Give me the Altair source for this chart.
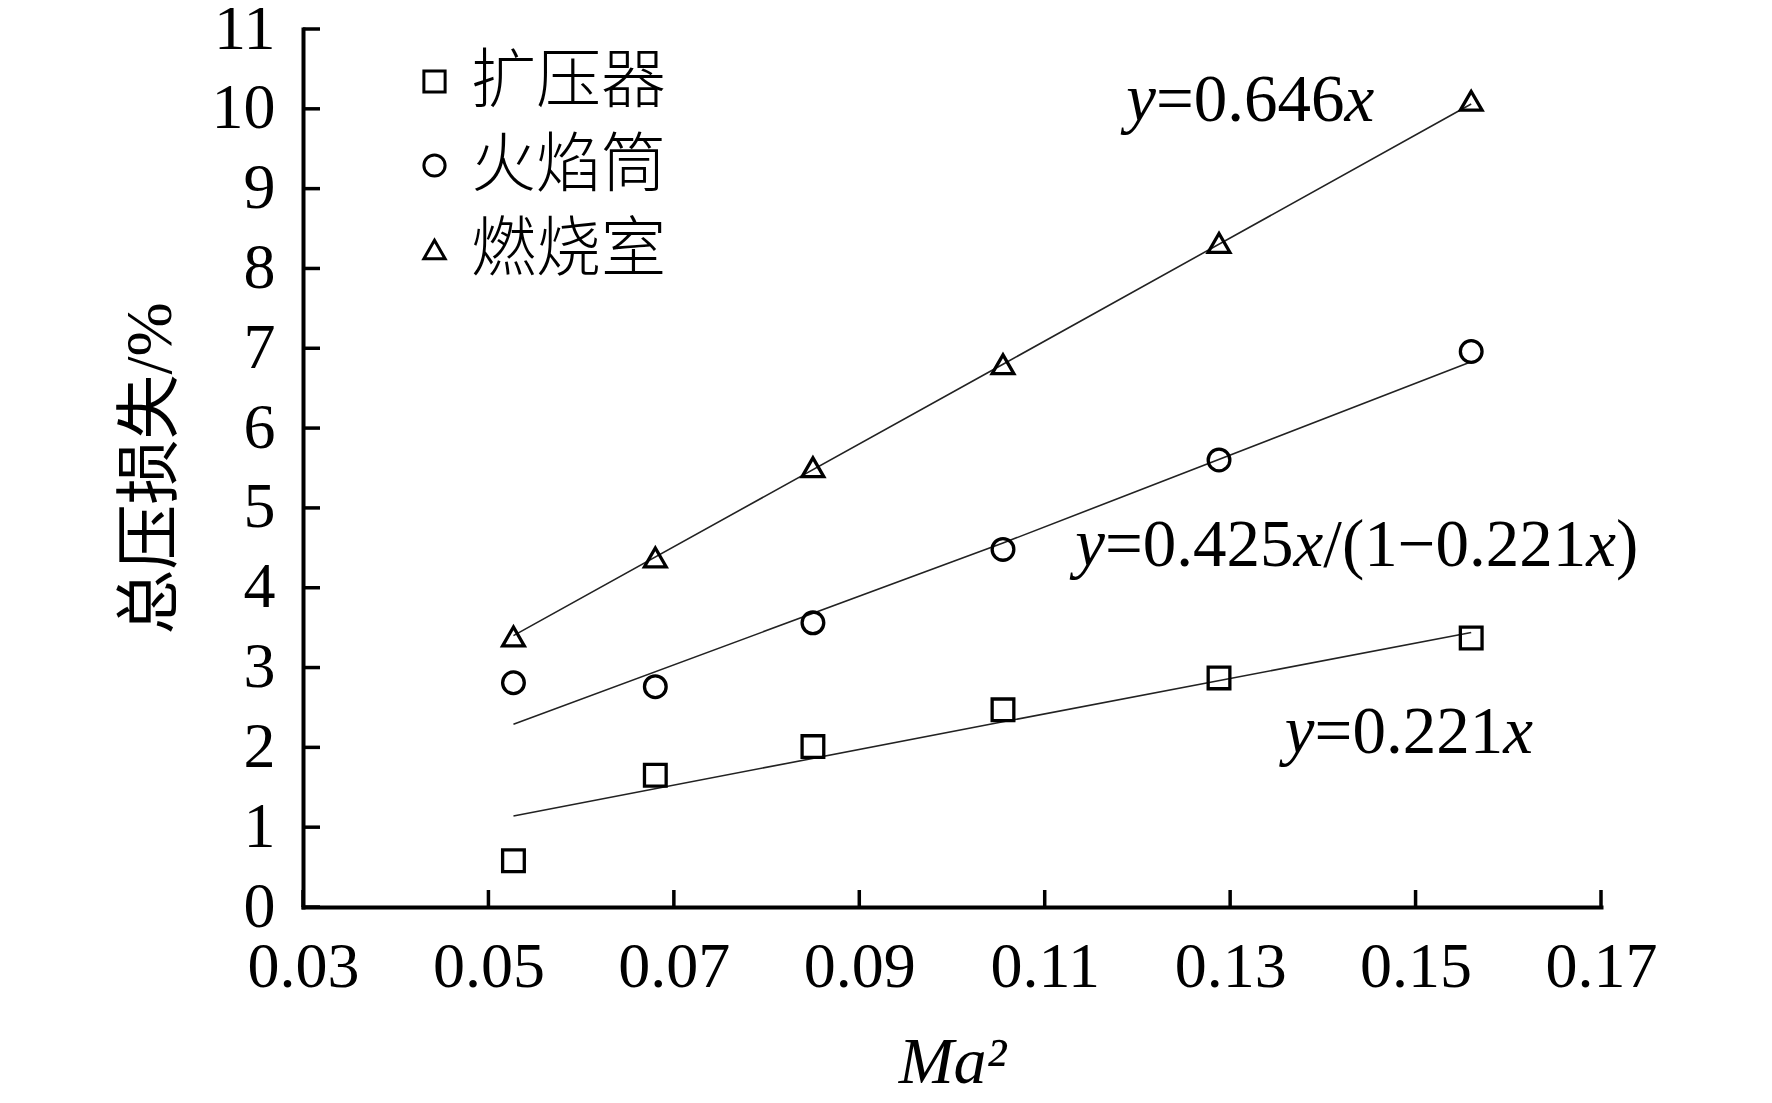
import altair as alt
import pandas as pd

# ---- data ----
series = ["扩压器", "火焰筒", "燃烧室"]
shapes = ["square", "circle", "triangle-up"]
ma2 = [0.0527, 0.0680, 0.0850, 0.1055, 0.1288, 0.1560]
diffuser = [0.58, 1.65, 2.01, 2.47, 2.87, 3.37]
liner = [2.81, 2.76, 3.56, 4.48, 5.60, 6.96]
combustor = [3.39, 4.38, 5.51, 6.80, 8.32, 10.10]

fit_x = [0.0527, 0.1055, 0.1560]
fit_diffuser = [1.14, 2.32, 3.44]
fit_liner = [2.29, 4.56, 6.83]
fit_combustor = [3.40, 6.80, 10.06]

x_ticks = [0.03, 0.05, 0.07, 0.09, 0.11, 0.13, 0.15, 0.17]
y_ticks = [0, 1, 2, 3, 4, 5, 6, 7, 8, 9, 10, 11]

# annotation texts (segments: text, italic) and anchor in data units
ann_parts = [
    [("y", True), ("=0.646", False), ("x", True)],
    [("y", True), ("=0.425", False), ("x", True), ("/(1\u22120.221", False), ("x", True), (")", False)],
    [("y", True), ("=0.221", False), ("x", True)],
]
ann_x = [0.1188, 0.1133, 0.1359]
ann_y = [9.85, 4.27, 1.93]

SERIF = "Liberation Serif"
MIXED = "Liberation Serif, Noto Sans CJK SC"
FS = 64

# ---- tables ----
pts = pd.DataFrame({
    "x": ma2 * 3,
    "y": diffuser + liner + combustor,
    "s": [series[0]] * 6 + [series[1]] * 6 + [series[2]] * 6,
})
fits = pd.DataFrame({
    "x": fit_x * 3,
    "y": fit_diffuser + fit_liner + fit_combustor,
    "s": [series[0]] * 3 + [series[1]] * 3 + [series[2]] * 3,
})

xs = alt.Scale(domain=[0.03, 0.17], nice=False, zero=False)
ys = alt.Scale(domain=[0, 11], nice=False)

x_axis = alt.Axis(
    values=x_ticks, format=".2f", ticks=False, grid=False,
    labelFont=SERIF, labelFontSize=FS, labelColor="black", labelPadding=28,
    labelFlush=False, labelOverlap=False,
    domainColor="black", domainWidth=4, domainCap="square",
    title="Ma\u00b2", titleFont=SERIF, titleFontStyle="italic", titleFontWeight="normal",
    titleFontSize=66, titleColor="black", titleY=175, titleBaseline="alphabetic",
)
y_axis = alt.Axis(
    values=y_ticks, format="d", ticks=False, grid=False,
    labelFont=SERIF, labelFontSize=FS, labelColor="black", labelPadding=28,
    labelFlush=False, labelOverlap=False,
    domainColor="black", domainWidth=4, domainCap="square",
    title="总压损失/%", titleFont=MIXED, titleFontWeight="normal", titleFontSize=65,
    titleColor="black", titleX=-153, titleBaseline="middle", titleAngle=270,
)

base_x = alt.X("x:Q", scale=xs, axis=x_axis)
base_y = alt.Y("y:Q", scale=ys, axis=y_axis)

lines = alt.Chart(fits).mark_line(color="#222222", strokeWidth=1.6).encode(
    x=base_x, y=base_y, detail="s:N"
)

points = alt.Chart(pts).mark_point(
    filled=False, color="black", strokeWidth=3.3, size=470, opacity=1
).encode(
    x=alt.X("x:Q", scale=xs),
    y=alt.Y("y:Q", scale=ys),
    shape=alt.Shape(
        "s:N",
        scale=alt.Scale(domain=series, range=shapes),
        legend=alt.Legend(
            orient="none", legendX=99, legendY=20, title=None, padding=0,
            labelFont=MIXED, labelFontSize=65, labelColor="black", labelLimit=600,
            labelFontWeight=300,
            labelOffset=4, rowPadding=18, symbolSize=450,
            symbolStrokeWidth=3, symbolStrokeColor="black",
        ),
    ),
)

xt = pd.DataFrame({"v": x_ticks})
yt = pd.DataFrame({"v": y_ticks})
x_tick_marks = alt.Chart(xt).mark_tick(
    orient="vertical", size=17, thickness=3.5, color="black", yOffset=-8.5, opacity=1
).encode(x=alt.X("v:Q", scale=xs), y=alt.datum(0))
y_tick_marks = alt.Chart(yt).mark_tick(
    orient="horizontal", size=17, thickness=3.5, color="black", xOffset=8.5, opacity=1
).encode(y=alt.Y("v:Q", scale=ys), x=alt.datum(0.03))

# annotation segments
WID = {"0": 0.5, "1": 0.5, "2": 0.5, "3": 0.5, "4": 0.5, "5": 0.5, "6": 0.5,
       "7": 0.5, "8": 0.5, "9": 0.5, ".": 0.25, "=": 0.564, "/": 0.278,
       "(": 0.333, ")": 0.333, "\u2212": 0.564, "x": 0.444, "y": 0.444}
AFS = 67
ann_layers = []
for parts, ax, ay in zip(ann_parts, ann_x, ann_y):
    off = 0.0
    for txt, ital in parts:
        df = pd.DataFrame({"x": [ax], "y": [ay], "t": [txt]})
        ann_layers.append(
            alt.Chart(df).mark_text(
                align="left", baseline="alphabetic", font=SERIF, fontSize=AFS,
                fontStyle="italic" if ital else "normal", color="black", dx=off,
            ).encode(x=alt.X("x:Q", scale=xs), y=alt.Y("y:Q", scale=ys), text="t:N")
        )
        off += sum(WID.get(c, 0.5) for c in txt) * AFS

chart = alt.layer(lines, points, x_tick_marks, y_tick_marks, *ann_layers).properties(
    width=1298, height=878,
    autosize=alt.AutoSizeParams(type="none"),
    padding={"left": 295, "top": 21, "right": 160, "bottom": 194},
    background="white",
).configure_view(stroke=None)

chart.save("out.html", embed_options={"renderer": "svg", "actions": False})
